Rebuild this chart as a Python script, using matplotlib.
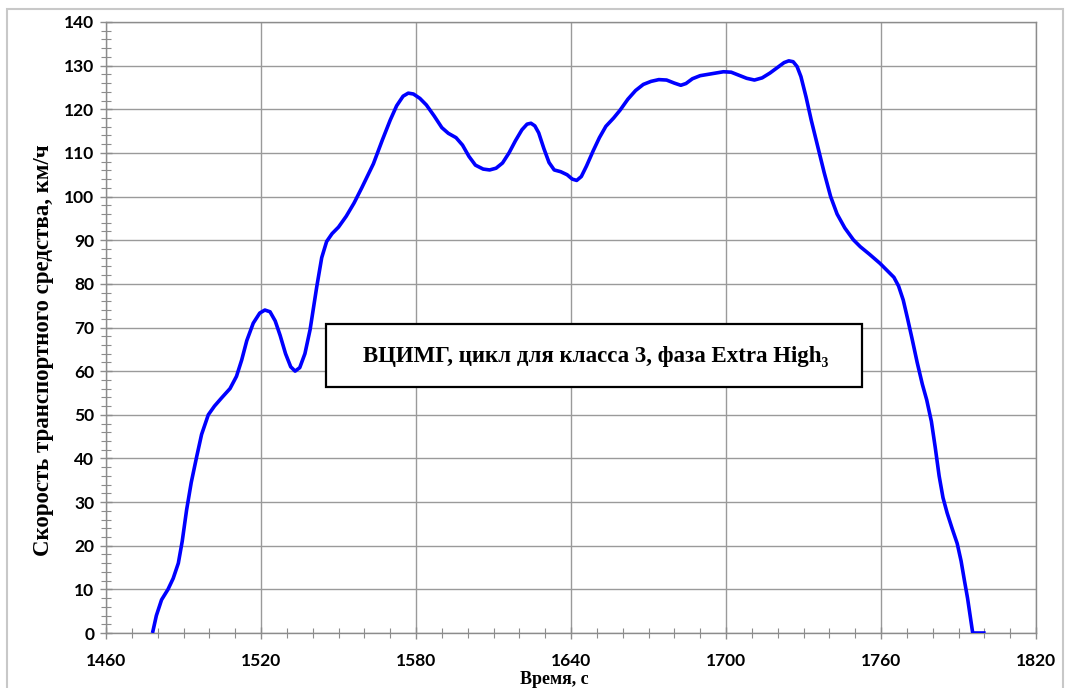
import matplotlib.pyplot as plt
from matplotlib.patches import Rectangle
from matplotlib.ticker import MultipleLocator

# speed trace (time, s / speed, km/h)
time_s = [1478, 1479.5, 1481.5, 1484, 1486, 1488, 1489.5, 1491.2, 1493, 1495.1,
          1497, 1499.6, 1502, 1504.8, 1508, 1510.5, 1512.5, 1514.5, 1517, 1519.5,
          1521.5, 1523.5, 1525.5, 1527.4, 1529.5, 1531.5, 1533.2, 1535, 1537, 1539,
          1541.6, 1543.5, 1545.4, 1547.5, 1550, 1553, 1556, 1559, 1563.5, 1567,
          1570, 1572.5, 1575, 1577, 1579, 1581.5, 1584, 1587, 1590, 1592.5,
          1595.5, 1598, 1600.5, 1603, 1606, 1608.5, 1611, 1613.5, 1616, 1618.5,
          1621, 1623, 1624.5, 1626, 1627.5, 1629.5, 1631.5, 1633.5, 1636, 1638.5,
          1640.5, 1642.2, 1644, 1646, 1648.6, 1651, 1653.5, 1656.5, 1659, 1662,
          1665, 1668, 1671, 1674, 1677, 1680, 1682.5, 1684.5, 1687, 1690,
          1694, 1699, 1702, 1705, 1708, 1711, 1714, 1717, 1720, 1722.5,
          1724.3, 1726, 1727.5, 1729, 1731, 1733, 1735.5, 1738, 1740.5, 1743,
          1746, 1749.3, 1752, 1755.5, 1759.6, 1762.5, 1765, 1766.8, 1768.6, 1770.3,
          1772, 1774, 1776, 1777.7, 1779.5, 1781, 1782.5, 1784, 1785.6, 1787.5,
          1789.5, 1791, 1792.3, 1793.5, 1794.5, 1795.5, 1800.5]
speed_kmh = [0, 4, 7.6, 10, 12.5, 16, 21, 28.2, 34.5, 40.4,
             45.5, 50, 52, 53.9, 56, 58.8, 62.5, 67, 71, 73.3,
             74, 73.6, 71.5, 68.2, 64, 61, 60, 60.8, 64, 69.5,
             79.4, 86, 89.7, 91.5, 93, 95.5, 98.5, 102, 107.5, 113,
             117.5, 120.8, 123, 123.7, 123.5, 122.5, 121, 118.5, 115.8, 114.5,
             113.5, 111.8, 109.2, 107.2, 106.3, 106.1, 106.5, 107.7, 110, 112.8,
             115.3, 116.6, 116.8, 116.2, 114.6, 111, 107.8, 106.1, 105.7, 105,
             104, 103.7, 104.6, 107, 110.5, 113.5, 116.1, 118, 119.8, 122.3,
             124.3, 125.7, 126.4, 126.8, 126.7, 126, 125.5, 125.9, 127, 127.7,
             128.1, 128.6, 128.5, 127.8, 127.1, 126.7, 127.2, 128.3, 129.6, 130.7,
             131.1, 130.9, 129.8, 127.5, 122.8, 117.5, 111.5, 105.5, 100, 96,
             92.8, 90.1, 88.5, 86.8, 84.7, 83, 81.5, 79.5, 76.3, 72,
             67.5, 62, 57, 53.4, 48.5, 42.5, 36, 31, 27.5, 24,
             20.5, 16.5, 12, 8, 4, 0, 0]

x_ticks = [1460, 1520, 1580, 1640, 1700, 1760, 1820]
y_ticks = list(range(0, 141, 10))

fig = plt.figure(figsize=(10.68, 6.88), dpi=100)
fig.patches.append(Rectangle((7 / 1068, -0.05), 1056 / 1068, 1.05 - 9 / 688,
                             transform=fig.transFigure, fill=False,
                             edgecolor='#c8c8c8', linewidth=1.5))
ax = fig.add_axes([106 / 1068, 55 / 688, 930 / 1068, 611 / 688])

ax.plot(time_s, speed_kmh, color='#0000ff', linewidth=2.6,
        solid_joinstyle='round', solid_capstyle='butt', zorder=3)

ax.set_xlim(1460, 1820)
ax.set_ylim(0, 140)
ax.set_xticks(x_ticks)
ax.set_yticks(y_ticks)
ax.xaxis.set_minor_locator(MultipleLocator(10))
ax.yaxis.set_minor_locator(MultipleLocator(2))
ax.grid(True, which='major', color='#9a9a9a', linewidth=1)
ax.set_axisbelow(True)

for sp in ax.spines.values():
    sp.set_color('#8c8c8c')
    sp.set_linewidth(1)

ax.tick_params(which='major', direction='inout', length=9, width=1, color='#8c8c8c')
ax.tick_params(which='minor', direction='inout', length=7, width=0.8, color='#8c8c8c')
ax.tick_params(axis='x', pad=10)
ax.tick_params(axis='y', pad=4)
for lab in ax.get_xticklabels() + ax.get_yticklabels():
    lab.set_fontfamily('Lato')
    lab.set_fontweight('bold')
    lab.set_fontsize(12.5)

ax.set_ylabel('Скорость транспортного средства, км/ч', family='Liberation Serif',
              fontweight='bold', fontsize=16.5)
ax.yaxis.set_label_coords(-0.056, 0.463)
fig.text(554 / 1068, 1 - 679 / 688, 'Время, с', family='Liberation Serif',
         fontweight='bold', fontsize=13, ha='center', va='center')

# title box
ax.add_patch(Rectangle((0.2366, 0.4026), 0.5763, 0.1031, transform=ax.transAxes,
                       facecolor='white', edgecolor='black', linewidth=1.6, zorder=4))
ax.text(0.527, 0.453, 'ВЦИМГ, цикл для класса 3, фаза Extra High₃',
        transform=ax.transAxes, ha='center', va='center',
        family=['Liberation Serif', 'DejaVu Serif'], fontweight='bold', fontsize=16.5,
        zorder=5)

plt.savefig('out.png', dpi=100)
